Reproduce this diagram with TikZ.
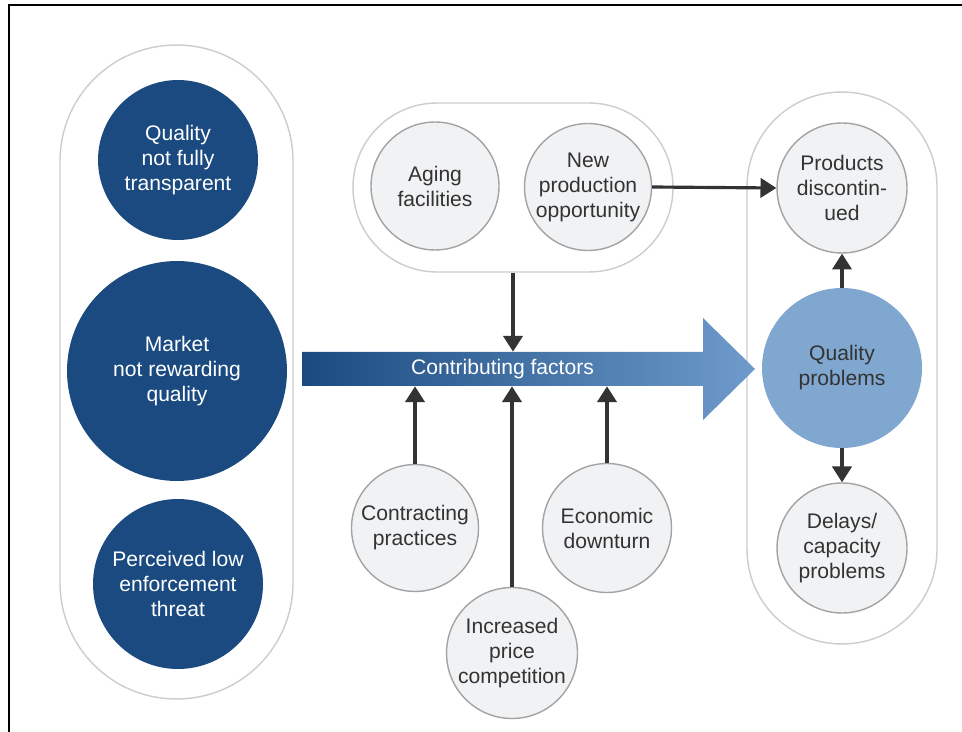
\documentclass[tikz,border=0pt]{standalone}
\usepackage{fontspec}
\setmainfont{Liberation Sans}
\usepackage{xcolor}
\usetikzlibrary{arrows.meta,positioning,calc}
\definecolor{navy}{HTML}{1A4A80}
\definecolor{skyblue}{HTML}{7FA7D0}
\definecolor{paleblue}{HTML}{6E9BCB}
\definecolor{softgray}{HTML}{F1F2F4}
\definecolor{rimgray}{HTML}{A3A3A3}
\definecolor{groupgray}{HTML}{CDCDCD}
\definecolor{inkgray}{HTML}{333333}
\tikzset{
  groupbox/.style={draw=groupgray, line width=0.8pt, fill=white},
  darkcircle/.style={circle, fill=navy, text=white, align=center, inner sep=0pt, font=\fontsize{12}{14.2}\selectfont},
  lightcircle/.style={circle, draw=rimgray, line width=0.8pt, fill=softgray, text=inkgray, align=center, inner sep=0pt, font=\fontsize{12}{14.2}\selectfont},
  flowarrow/.style={-{Triangle[length=9pt, width=11pt]}, line width=1.8pt, draw=inkgray}
}
\begin{document}
\begin{tikzpicture}[x=0.02cm, y=-0.02cm]
  \useasboundingbox (0,0) rectangle (962,732);
  \draw[line width=1.2pt] (9,732) -- (9,5) -- (962,5);
  % groups
  \node[groupbox, minimum width=4.66cm, minimum height=13.08cm, rounded corners=2.32cm] (drivers) at (176.5,372) {};
  \node[groupbox, minimum width=6.4cm, minimum height=3.38cm, rounded corners=1.68cm] (causes) at (513,187.5) {};
  \node[groupbox, minimum width=3.8cm, minimum height=11.04cm, rounded corners=1.89cm] (effects) at (842,368) {};
  % market drivers
  \node[darkcircle, minimum size=3.2cm] (qtrans) at (178,160) {Quality\\not fully\\transparent};
  \node[darkcircle, minimum size=4.4cm] (market) at (177,371) {Market\\not rewarding\\quality};
  \node[darkcircle, minimum size=3.4cm] (enforce) at (178,584) {Perceived low\\enforcement\\threat};
  % contributing factors arrow
  \shade[left color=navy, right color=paleblue]
    (302,352) -- (703,352) -- (703,318) -- (755,369) -- (703,420) -- (703,386) -- (302,386) -- cycle;
  \node[minimum width=8.02cm, minimum height=0.68cm, text=white, font=\fontsize{12}{14.2}\selectfont] (factors) at (502.5,369) {Contributing factors};
  % factors
  \node[lightcircle, minimum size=2.56cm] (aging) at (435,186) {Aging\\facilities};
  \node[lightcircle, minimum size=2.54cm] (newprod) at (588,187) {New\\production\\opportunity};
  \node[lightcircle, minimum size=2.54cm] (contract) at (415,528) {Contracting\\practices};
  \node[lightcircle, minimum size=2.62cm] (price) at (512,653) {Increased\\price\\competition};
  \node[lightcircle, minimum size=2.58cm] (downturn) at (607,528) {Economic\\downturn};
  % effects
  \node[lightcircle, minimum size=2.6cm] (discont) at (842,188) {Products\\discontin-\\ued};
  \node[circle, fill=skyblue, text=inkgray, align=center, inner sep=0pt, minimum size=3.2cm, font=\fontsize{12}{14.2}\selectfont] (qprob) at (842,368) {Quality\\problems};
  \node[lightcircle, minimum size=2.6cm] (delays) at (842,548) {Delays/\\capacity\\problems};
  % connectors
  \draw[flowarrow] (causes.south) -- (causes.south |- factors.north);
  \draw[flowarrow] (newprod.east) -- (discont.west);
  \draw[flowarrow] (qprob.north) -- (discont.south);
  \draw[flowarrow] (qprob.south) -- (delays.north);
  \draw[flowarrow] (contract.north) -- (contract.north |- factors.south);
  \draw[flowarrow] (price.north) -- (price.north |- factors.south);
  \draw[flowarrow] (downturn.north) -- (downturn.north |- factors.south);
\end{tikzpicture}
\end{document}
